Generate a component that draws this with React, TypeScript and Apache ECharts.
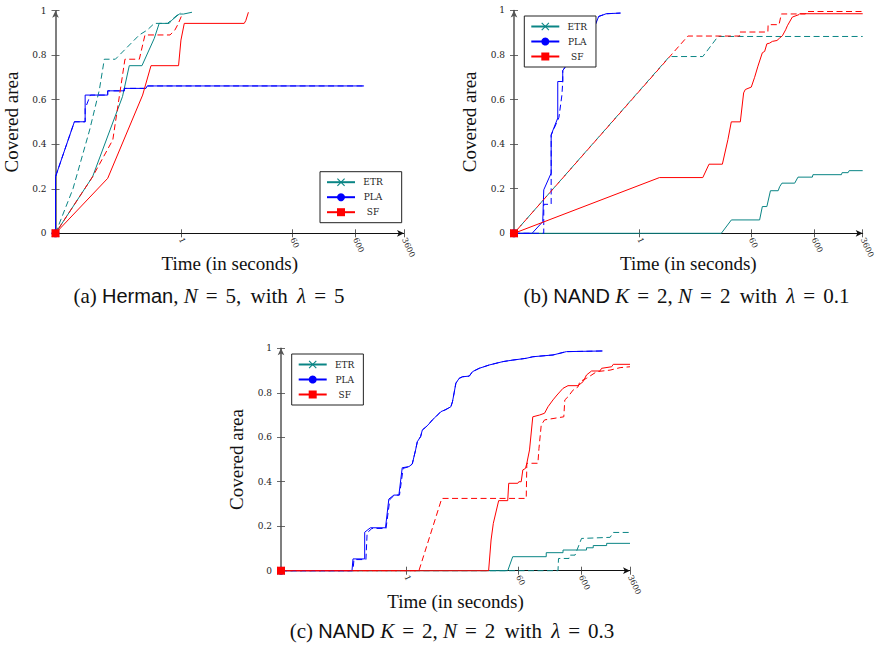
import React, { useEffect, useRef } from 'react';
import * as echarts from 'echarts';

type Pt = [number, number];

const methods = ['ETR', 'PLA', 'SF'];
const timeTicks = [1, 60, 600, 3600];
const timeMin = 0.01;
const timeMax = 3600;
const coverMin = 0;
const coverMax = 1;
const coverStep = 0.2;

// (a) Herman, N = 5, lambda = 5 — [time (s), covered area]
const hermanEtr: Pt[] = [[0.01, 0], [0.039, 0.254], [0.117, 0.614], [0.15, 0.753], [0.239, 0.753], [0.376, 0.876], [0.45, 0.943], [0.65, 0.943], [0.7, 0.955], [0.94, 0.985], [1.1, 0.985], [1.5, 0.993]];
const hermanEtrDashed: Pt[] = [[0.01, 0], [0.019, 0.2], [0.035, 0.464], [0.05, 0.644], [0.06, 0.782], [0.09, 0.782], [0.217, 0.891], [0.29, 0.913], [0.376, 0.943], [0.61, 0.943], [0.94, 0.988], [1.0, 0.99]];
const hermanPla: Pt[] = [[0.01, 0], [0.01, 0.254], [0.02, 0.501], [0.0297, 0.501], [0.0297, 0.621], [0.068, 0.621], [0.068, 0.64], [0.125, 0.64], [0.125, 0.651], [0.277, 0.651], [0.29, 0.662], [830, 0.662]];
const hermanPlaDashed: Pt[] = [[0.01, 0], [0.01, 0.254], [0.02, 0.501], [0.0297, 0.501], [0.0297, 0.56], [0.036, 0.621], [0.068, 0.621], [0.068, 0.64], [0.125, 0.64], [0.125, 0.651], [0.277, 0.651], [0.29, 0.662], [830, 0.662]];
const hermanSf: Pt[] = [[0.01, 0], [0.068, 0.247], [0.245, 0.621], [0.333, 0.753], [0.916, 0.753], [1.0, 0.868], [1.13, 0.943], [10.2, 0.943], [10.8, 0.955], [11.9, 0.993]];
const hermanSfDashed: Pt[] = [[0.01, 0], [0.039, 0.254], [0.082, 0.42], [0.104, 0.614], [0.128, 0.782], [0.217, 0.782], [0.267, 0.891], [0.67, 0.891], [0.8, 0.913], [0.9, 0.94], [1.05, 0.985]];

// (b) NAND K = 2, N = 2, lambda = 0.1
const nandLowEtr: Pt[] = [[0.01, 0], [20.1, 0], [29.1, 0.06], [82, 0.06], [90.6, 0.12], [107, 0.12], [122, 0.191], [162, 0.191], [171, 0.209], [186, 0.225], [297, 0.225], [335, 0.252], [568, 0.252], [580, 0.263], [1650, 0.263], [1690, 0.272], [2110, 0.272], [2190, 0.281], [3600, 0.281]];
const nandLowEtrDashed: Pt[] = [[0.01, 0], [3.0, 0.793], [10.2, 0.793], [17.8, 0.883], [3600, 0.883]];
const nandLowPla: Pt[] = [[0.01, 0], [0.0194, 0], [0.0287, 0.052], [0.0298, 0.195], [0.0391, 0.27], [0.0391, 0.442], [0.0498, 0.517], [0.0498, 0.681], [0.0598, 0.681], [0.0598, 0.73], [0.09, 0.8], [0.13, 0.88], [0.2, 0.94], [0.224, 0.973], [0.27, 0.981], [0.294, 0.985], [0.498, 0.988]];
const nandLowPlaDashed: Pt[] = [[0.01, 0], [0.0298, 0], [0.0298, 0.13], [0.0391, 0.13], [0.0391, 0.44], [0.052, 0.52], [0.058, 0.62], [0.0598, 0.68], [0.0598, 0.73], [0.09, 0.8], [0.13, 0.88], [0.2, 0.94], [0.224, 0.973], [0.27, 0.981], [0.294, 0.985], [0.498, 0.988]];
const nandLowSf: Pt[] = [[0.01, 0], [2.08, 0.25], [10.2, 0.25], [12.8, 0.31], [20.9, 0.31], [25.6, 0.42], [29, 0.5], [40.4, 0.5], [45.6, 0.63], [48.5, 0.645], [60.4, 0.656], [68.3, 0.7], [77.1, 0.75], [90.6, 0.81], [98.6, 0.816], [107, 0.85], [118, 0.853], [131, 0.861], [155, 0.865], [171, 0.876], [189, 0.886], [213, 0.913], [227, 0.931], [272, 0.97], [347, 0.981], [356, 0.985], [3600, 0.985]];
const nandLowSfDashed: Pt[] = [[0.01, 0], [5.9, 0.885], [39.4, 0.885], [39.4, 0.903], [111, 0.903], [112, 0.936], [167, 0.936], [182, 0.984], [440, 0.984], [456, 0.995], [3600, 0.995]];

// (c) NAND K = 2, N = 2, lambda = 0.3
const nandHighEtr: Pt[] = [[0.01, 0], [40.7, 0], [48.9, 0.063], [167, 0.063], [167, 0.081], [309, 0.081], [309, 0.093], [731, 0.093], [731, 0.103], [935, 0.103], [935, 0.113], [1529, 0.113], [1529, 0.123], [3600, 0.123]];
const nandHighEtrDashed: Pt[] = [[0.01, 0], [257, 0], [262, 0.055], [385, 0.055], [390, 0.07], [480, 0.07], [609, 0.145], [1737, 0.15], [1950, 0.172], [3600, 0.172]];
const nandHighPla: Pt[] = [[0.01, 0], [0.135, 0], [0.14, 0.053], [0.215, 0.053], [0.215, 0.173], [0.265, 0.193], [0.461, 0.193], [0.521, 0.322], [0.627, 0.34], [0.753, 0.34], [0.851, 0.463], [1.09, 0.468], [1.23, 0.48], [1.39, 0.543], [1.48, 0.58], [1.67, 0.603], [1.78, 0.633], [2.01, 0.645], [2.27, 0.66], [2.57, 0.678], [2.91, 0.692], [3.5, 0.715], [4.1, 0.723], [5.06, 0.737], [5.37, 0.76], [5.71, 0.8], [6.08, 0.843], [6.87, 0.865], [7.76, 0.872], [9.93, 0.875], [11.2, 0.895], [14.3, 0.91], [20.7, 0.925], [33.9, 0.94], [48.9, 0.947], [80.2, 0.955], [102, 0.962], [214, 0.97], [350, 0.985], [1318, 0.988]];
const nandHighPlaDashed: Pt[] = [[0.01, 0], [0.14, 0], [0.145, 0.05], [0.225, 0.05], [0.235, 0.17], [0.28, 0.19], [0.47, 0.19], [0.54, 0.32], [0.64, 0.34], [0.77, 0.34], [0.88, 0.46], [1.1, 0.468], [1.23, 0.48], [1.39, 0.543], [1.48, 0.58], [1.67, 0.603], [1.78, 0.633], [2.01, 0.645], [2.27, 0.66], [2.57, 0.678], [2.91, 0.692], [3.5, 0.715], [4.1, 0.723], [5.06, 0.737], [5.37, 0.76], [5.71, 0.8], [6.08, 0.843], [6.87, 0.865], [7.76, 0.872], [9.93, 0.875], [11.2, 0.895], [14.3, 0.91], [20.7, 0.925], [33.9, 0.94], [48.9, 0.947], [80.2, 0.955], [102, 0.962], [214, 0.97], [350, 0.985], [1318, 0.988]];
const nandHighSf: Pt[] = [[0.01, 0], [20.2, 0], [22.1, 0.138], [24, 0.213], [29.2, 0.315], [40.7, 0.315], [42.2, 0.393], [58.9, 0.393], [61.1, 0.4], [66.7, 0.4], [70.8, 0.453], [78.1, 0.46], [82, 0.483], [90.5, 0.543], [102, 0.692], [131, 0.7], [157, 0.708], [178, 0.737], [214, 0.768], [248, 0.79], [309, 0.82], [371, 0.832], [537, 0.832], [645, 0.85], [731, 0.88], [879, 0.898], [1194, 0.898], [1271, 0.91], [1837, 0.917], [1950, 0.928], [3600, 0.928]];
const nandHighSfDashed: Pt[] = [[0.01, 0], [1.57, 0], [3.63, 0.325], [80.2, 0.325], [82, 0.483], [123, 0.483], [128, 0.55], [139, 0.655], [157, 0.678], [318, 0.692], [330, 0.768], [371, 0.782], [446, 0.812], [537, 0.827], [572, 0.85], [731, 0.865], [1064, 0.895], [1737, 0.902], [2506, 0.913], [3600, 0.917]];

const panelRuns: Record<string, [Pt[], Pt[]]>[] = [
  { ETR: [hermanEtr, hermanEtrDashed], PLA: [hermanPla, hermanPlaDashed], SF: [hermanSf, hermanSfDashed] },
  { ETR: [nandLowEtr, nandLowEtrDashed], PLA: [nandLowPla, nandLowPlaDashed], SF: [nandLowSf, nandLowSfDashed] },
  { ETR: [nandHighEtr, nandHighEtrDashed], PLA: [nandHighPla, nandHighPlaDashed], SF: [nandHighSf, nandHighSfDashed] },
];

const captions = [
  '(a) {s|Herman}, {i|N}{e|=}5, {w|with} {i|λ}{e|=}5',
  '(b) {s|NAND} {i|K}{e|=}2, {i|N}{e|=}2 {w|with} {i|λ}{e|=}0.1',
  '(c) {s|NAND} {i|K}{e|=}2, {i|N}{e|=}2 {w|with} {i|λ}{e|=}0.3',
];

// layout of the three panels
const layouts = [
  { grid: { left: 55.5, top: 10.7, width: 348.5, height: 222.6 }, legend: { left: 320, top: 171.7, right: 19 }, caption: [209, 296] },
  { grid: { left: 514, top: 10.4, width: 348.7, height: 222.9 }, legend: { left: 524.3, top: 16, right: 9 }, caption: [686.5, 296] },
  { grid: { left: 281, top: 348.3, width: 349, height: 222.4 }, legend: { left: 291.7, top: 354, right: 9 }, caption: [452, 631] },
];

const colors: Record<string, string> = { ETR: '#0a8585', PLA: '#0000ff', SF: '#ff0000' };
const dashOffsets: Record<string, number> = { ETR: 0, PLA: 0, SF: 4 };
const crossMark = 'path://M1,0L5,4L9,0L10,1L6,5L10,9L9,10L5,6L1,10L0,9L4,5L0,1Z';
const marks: Record<string, string> = { ETR: crossMark, PLA: 'circle', SF: 'rect' };

const serif = 'Liberation Serif';
const tickFont = 'DejaVu Serif';

function buildOption() {
  const grid: any[] = [];
  const xAxis: any[] = [];
  const yAxis: any[] = [];
  const series: any[] = [];
  const legend: any[] = [];
  const graphic: any[] = [];

  layouts.forEach((lay, i) => {
    grid.push({ ...lay.grid, containLabel: false });
    const xBase = {
      type: 'log', logBase: 10, gridIndex: i, min: timeMin, max: timeMax, position: 'bottom',
      splitLine: { show: false }, minorTick: { show: false }, minorSplitLine: { show: false },
    };
    xAxis.push({
      ...xBase,
      name: 'Time (in seconds)', nameLocation: 'middle', nameGap: 21, nameMoveOverlap: false,
      nameTextStyle: { fontFamily: serif, fontSize: 19, color: '#111' },
      axisLine: { show: true, onZero: false, symbol: ['none', 'arrow'], symbolSize: [5, 7], lineStyle: { color: '#111', width: 1 } },
      axisTick: { show: true, length: 4, customValues: timeTicks, lineStyle: { color: '#333', width: 0.8 } },
      axisLabel: {
        customValues: timeTicks, rotate: -65, margin: 5, fontFamily: tickFont, fontSize: 8, color: '#222',
        formatter: (v: number) => String(Math.round(v)),
      },
    });
    xAxis.push({
      ...xBase,
      axisLine: { show: false, onZero: false },
      axisTick: { show: true, inside: true, length: 4, customValues: timeTicks, lineStyle: { color: '#333', width: 0.8 } },
      axisLabel: { show: false },
    });
    const yBase = {
      type: 'value', gridIndex: i, min: coverMin, max: coverMax, interval: coverStep, position: 'left',
      splitLine: { show: false },
    };
    yAxis.push({
      ...yBase,
      name: 'Covered area', nameLocation: 'middle', nameGap: 35, nameMoveOverlap: false,
      nameTextStyle: { fontFamily: serif, fontSize: 19, color: '#111' },
      axisLine: { show: true, onZero: false, symbol: ['none', 'arrow'], symbolSize: [5, 7], lineStyle: { color: '#555', width: 1.5 } },
      axisTick: { show: true, length: 4, lineStyle: { color: '#444', width: 0.8 } },
      axisLabel: { margin: 9, fontFamily: tickFont, fontSize: 9, color: '#222' },
    });
    yAxis.push({
      ...yBase,
      axisLine: { show: false, onZero: false },
      axisTick: { show: true, inside: true, length: 4, lineStyle: { color: '#444', width: 0.8 } },
      axisLabel: { show: false },
    });

    const runs = panelRuns[i];
    methods.forEach((m) => {
      const [solid, dashed] = runs[m];
      series.push({
        type: 'line', name: `${m} (dashed)`, xAxisIndex: i * 2, yAxisIndex: i * 2, data: dashed,
        symbol: 'none', silent: true, clip: false,
        lineStyle: { color: colors[m], width: 1, type: [6, 3.5], dashOffset: dashOffsets[m] },
        itemStyle: { color: colors[m] },
      });
      series.push({
        type: 'line', name: m, xAxisIndex: i * 2, yAxisIndex: i * 2, data: solid,
        symbol: marks[m], showSymbol: true,
        symbolSize: (_v: any, p: any) => (p.dataIndex === 0 ? 8 : 0),
        silent: true, clip: false,
        lineStyle: { color: colors[m], width: 1 }, itemStyle: { color: colors[m] },
      });
    });

    legend.push({
      data: methods, orient: 'vertical', left: lay.legend.left, top: lay.legend.top,
      itemWidth: 28, itemHeight: 10, itemGap: 6,
      padding: [6, lay.legend.right, 6, 6],
      borderColor: '#222', borderWidth: 1, borderRadius: 0, backgroundColor: '#fff',
      selectedMode: false,
      formatter: (name: string) => `{n|${name}}`,
      textStyle: {
        color: '#222', fontFamily: tickFont, fontSize: 9,
        rich: { n: { width: 26, align: 'center', fontFamily: tickFont, fontSize: 9, color: '#222' } },
      },
    });

    graphic.push({
      type: 'text', x: lay.caption[0], y: lay.caption[1],
      style: {
        text: captions[i], align: 'center', verticalAlign: 'middle',
        fontFamily: serif, fontSize: 21, fill: '#111',
        rich: {
          s: { fontFamily: 'Liberation Sans', fontSize: 20, fill: '#111' },
          i: { fontFamily: serif, fontStyle: 'italic', fontSize: 21, fill: '#111' },
          e: { fontFamily: serif, fontSize: 21, fill: '#111', padding: [0, 8, 0, 8] },
          w: { fontFamily: serif, fontSize: 21, fill: '#111', padding: [0, 4, 0, 4] },
        },
      },
    });
  });

  return { animation: false, backgroundColor: '#fff', grid, xAxis, yAxis, series, legend, graphic };
}

export default function App() {
  const ref = useRef<HTMLDivElement>(null);
  useEffect(() => {
    if (!ref.current) return;
    const chart = echarts.init(ref.current, null, { renderer: 'svg' });
    chart.setOption(buildOption() as any);
    return () => chart.dispose();
  }, []);
  return <div ref={ref} style={{ position: 'absolute', left: 0, top: 0, width: 880, height: 647 }} />;
}
